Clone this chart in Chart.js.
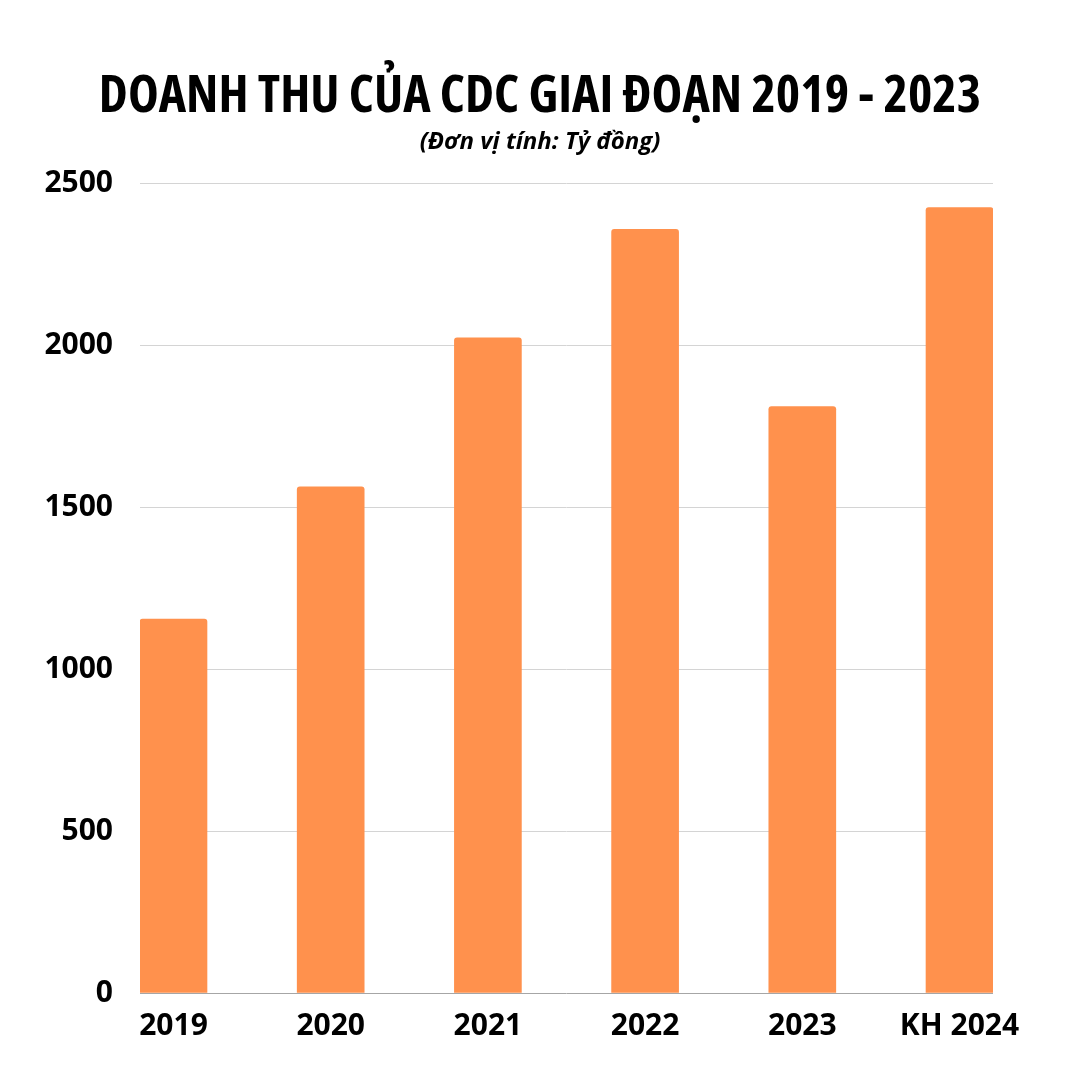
<!DOCTYPE html>
<html>
<head>
<meta charset="utf-8">
<script src="https://cdn.jsdelivr.net/npm/chart.js@4.4.1/dist/chart.umd.min.js"></script>
<style>
  html, body { margin: 0; padding: 0; background: #ffffff; }
  #wrap { width: 1080px; height: 1080px; }
</style>
</head>
<body>
<div id="wrap"><canvas id="revenue-chart" width="1080" height="1080"></canvas></div>
<script>
/* Doanh thu CDC 2019 - 2023 (+ kế hoạch 2024) */
const years = ['2019', '2020', '2021', '2022', '2023', 'KH 2024'];
const revenue = [1154, 1562, 2022, 2357, 1810, 2424];
const yTicks = [0, 500, 1000, 1500, 2000, 2500];

const FAMILY = "'Open Sans', 'Noto Sans', sans-serif";

const ctx = document.getElementById('revenue-chart');

new Chart(ctx, {
    type: 'bar',
    data: {
        datasets: [{
            label: 'Doanh thu',
            data: revenue.map((v, i) => ({ x: i, y: v })),
            backgroundColor: '#FF914D',
            borderWidth: 0,
            borderRadius: 3,
            borderSkipped: 'bottom',
            barThickness: 67
        }]
    },
    options: {
        responsive: false,
        animation: false,
        devicePixelRatio: 1,
        layout: { padding: 0 },
        scales: {
            x: {
                type: 'linear',
                offset: false,
                min: -0.213,
                max: 5.213,
                grid: { display: false, drawTicks: false },
                border: { display: false },
                afterBuildTicks: (scale) => {
                    scale.ticks = years.map((_, i) => ({ value: i }));
                },
                afterFit: (scale) => { scale.height = 87; },
                ticks: {
                    autoSkip: false,
                    maxRotation: 0,
                    padding: 15,
                    color: '#000000',
                    font: { family: FAMILY, weight: 'bold', size: 30 },
                    callback: (v) => years[v]
                }
            },
            y: {
                min: 0,
                max: 2500,
                afterBuildTicks: (scale) => {
                    scale.ticks = yTicks.map(v => ({ value: v }));
                },
                afterFit: (scale) => { scale.width = 140; },
                border: { display: false },
                grid: {
                    color: (c) => c.tick && c.tick.value === 0 ? '#a6a6a6' : '#d4d4d4',
                    lineWidth: 1,
                    drawTicks: false
                },
                ticks: {
                    padding: 27,
                    color: '#000000',
                    font: { family: FAMILY, weight: 'bold', size: 30 },
                    callback: (v) => String(v)
                }
            },
            // empty right-hand axis, only keeps the right margin
            yRight: {
                position: 'right',
                display: true,
                grid: { display: false, drawTicks: false },
                border: { display: false },
                ticks: { display: false },
                afterFit: (scale) => { scale.width = 87; }
            }
        },
        plugins: {
            legend: { display: false },
            tooltip: { enabled: false },
            title: {
                display: true,
                text: 'DOANH THU CỦA CDC GIAI ĐOẠN 2019 - 2023',
                color: '#000000',
                font: { family: FAMILY, weight: 'bold condensed', size: 52, lineHeight: 1.2 },
                padding: { top: 65.5, bottom: 0 }
            },
            subtitle: {
                display: true,
                text: '(Đơn vị tính: Tỷ đồng)',
                color: '#000000',
                font: { family: FAMILY, weight: 'bold', style: 'italic', size: 24, lineHeight: 1.2 },
                padding: { top: 0, bottom: 26.3 }
            }
        }
    }
});
</script>
</body>
</html>
